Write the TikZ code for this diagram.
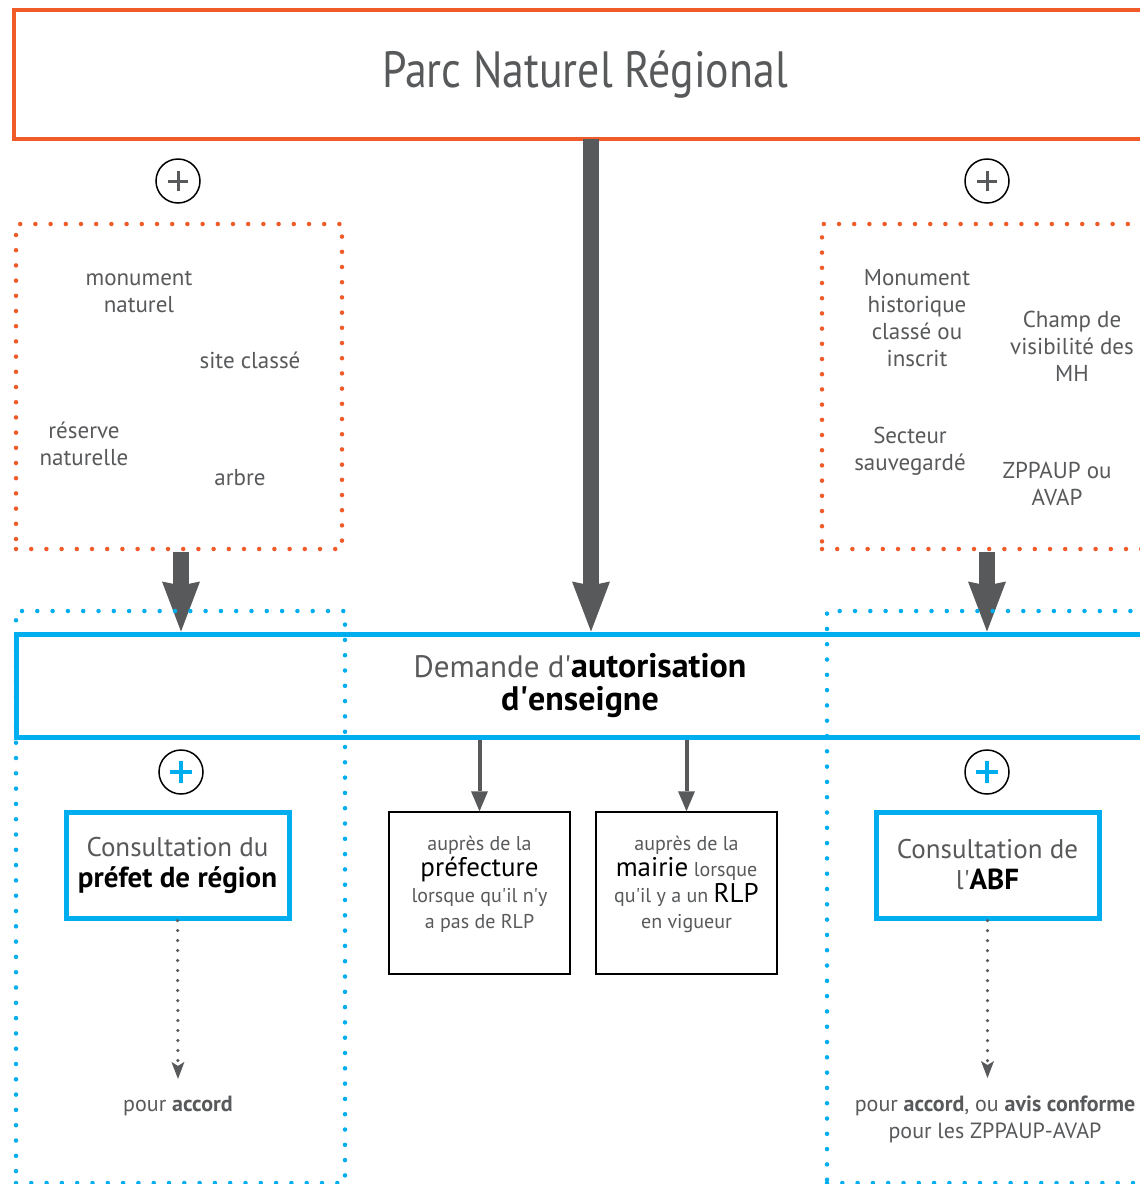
\documentclass[tikz,border=0pt]{standalone}
\usepackage{fontspec}
\setmainfont{PT Sans}
\newfontfamily\condfont[FakeStretch=0.86]{PT Sans}
\usetikzlibrary{arrows.meta}
\definecolor{orangeP}{HTML}{F15A29}
\definecolor{blueP}{HTML}{00AEEF}
\definecolor{grayP}{HTML}{58595B}
\newcommand{\q}{\textquotesingle}
\begin{document}
\begin{tikzpicture}[x=1pt,y=-1pt,
  orangezone/.style={draw=orangeP, line width=4.5pt, line cap=round, dash pattern=on 0pt off 15.2pt, rectangle, inner sep=0pt},
  bluezone/.style={draw=blueP, line width=4.5pt, line cap=round, dash pattern=on 0pt off 15.3pt, rectangle, inner sep=0pt},
  zonetext/.style={text=grayP, align=center, font=\fontsize{23}{27}\selectfont, inner sep=0pt},
  bigarrow/.style={draw=grayP, line width=16pt, -{Stealth[length=50pt,width=38pt,inset=4pt,line width=0pt]}},
  midarrow/.style={draw=grayP, line width=4pt, -{Triangle[length=20pt,width=17pt,line width=0pt]}},
  dotarrow/.style={draw=grayP, line width=3.5pt, line cap=round, dash pattern=on 0pt off 10pt, -{Stealth[length=17pt,width=13pt,inset=4pt,line width=0pt]}},
  pluscircle/.style={circle, draw=black, line width=1.5pt, minimum size=44pt, inner sep=0pt},
  consbox/.style={rectangle, draw=blueP, line width=5pt, fill=white, minimum width=223pt, minimum height=106pt, inner sep=0pt, align=center, font=\fontsize{27}{31}\selectfont, text=grayP},
  placebox/.style={rectangle, draw=black, line width=1.5pt, minimum width=181pt, minimum height=162pt, inner sep=0pt},
  placetext/.style={align=center, text=grayP, font=\fontsize{20}{26}\selectfont, inner sep=0pt},
  bottomtext/.style={align=center, text=grayP, font=\fontsize{22}{27}\selectfont, inner sep=0pt}
]
\useasboundingbox (0,0) rectangle (1140,1184);
\clip (0,0) rectangle (1140,1184);
\fill[white] (0,0) rectangle (1140,1184);

% title
\node[rectangle, draw=orangeP, line width=4pt, minimum width=1142pt, minimum height=129pt, inner sep=0pt,
      text=grayP, font=\condfont\fontsize{51}{51}\selectfont] (title) at (585,74.5) {Parc Naturel Régional};

% orange zones
\node[orangezone, minimum width=326pt, minimum height=325pt] (lzone) at (179,386.5) {};
\node[orangezone, minimum width=340pt, minimum height=325pt] (rzone) at (992,386.5) {};

\node[zonetext] (t1) at (139,292) {monument\\naturel};
\node[zonetext] (t2) at (250,360) {site classé};
\node[zonetext] (t3) at (84,444) {réserve\\naturelle};
\node[zonetext] (t4) at (240,478) {arbre};
\node[zonetext] (t5) at (917,318) {Monument\\historique\\classé ou\\inscrit};
\node[zonetext] (t6) at (1072,346) {Champ de\\visibilité des\\MH};
\node[zonetext] (t7) at (910,451) {Secteur\\sauvegardé};
\node[zonetext] (t8) at (1057,484) {ZPPAUP ou\\AVAP};

% plus circles top
\node[pluscircle] (p1) at (178,181) {};
\node[pluscircle] (p2) at (987,181) {};
\foreach \p in {p1,p2}{
  \draw[grayP, line width=3pt] ([xshift=-10pt]\p.center) -- ([xshift=10pt]\p.center);
  \draw[grayP, line width=3pt] ([yshift=-10pt]\p.center) -- ([yshift=10pt]\p.center);
}

% demande box
\node[rectangle, draw=blueP, line width=5pt, minimum width=1134pt, minimum height=103pt, inner sep=0pt] (demande) at (583,685.5) {};
\node[align=center, inner sep=0pt, font=\fontsize{31}{33}\selectfont] (demtext) at (580,686)
  {\textcolor{grayP}{Demande d\q}{\fontsize{34}{33}\selectfont\textbf{autorisation}}\\{\fontsize{34}{33}\selectfont\textbf{d\q enseigne}}};

% big arrows
\coordinate (cA) at (591,139);
\draw[bigarrow] (cA) -- (cA |- demande.north);
\draw[bigarrow] ([yshift=-1pt]lzone.south -| 181,0) -- (demande.north -| 181,0);
\draw[bigarrow] ([yshift=-1pt]rzone.south -| 987,0) -- (demande.north -| 987,0);

% blue zones (drawn over arrows)
\node[bluezone, minimum width=329pt, minimum height=572pt] (lblue) at (180.5,897) {};
\node[bluezone, minimum width=340pt, minimum height=572pt] (rblue) at (997,897) {};

% plus circles bottom
\node[pluscircle] (p3) at (181,772) {};
\node[pluscircle] (p4) at (987,772) {};
\foreach \p in {p3,p4}{
  \draw[blueP, line width=3.5pt] ([xshift=-11pt]\p.center) -- ([xshift=11pt]\p.center);
  \draw[blueP, line width=3.5pt] ([yshift=-11pt]\p.center) -- ([yshift=11pt]\p.center);
}

% consultation boxes
\node[consbox] (prefet) at (177.5,865) {Consultation du\\{\fontsize{29}{31}\selectfont\textcolor{black}{\textbf{préfet de région}}}};
\node[consbox] (abf) at (987.5,865) {Consultation de\\l\q{\fontsize{29}{31}\selectfont\textcolor{black}{\textbf{ABF}}}};

% place boxes
\node[placebox] (pref) at (479.5,893) {};
\node[placebox] (mairie) at (686.5,893) {};
\node[placetext] (preftext) at (479.5,884) {auprès de la\\{\fontsize{27}{26}\selectfont\textcolor{black}{préfecture}}\\lorsque qu\q il n\q y\\a pas de RLP};
\node[placetext] (mairietext) at (686.5,884) {auprès de la\\{\fontsize{27}{26}\selectfont\textcolor{black}{mairie}} lorsque\\qu\q il y a un {\fontsize{27}{26}\selectfont\textcolor{black}{RLP}}\\en vigueur};

\draw[midarrow] (pref.north |- demande.south) -- (pref.north);
\draw[midarrow] (mairie.north |- demande.south) -- (mairie.north);

% bottom texts
\node[bottomtext] (acc1) at (178,1106) {pour \textbf{accord}};
\node[bottomtext] (acc2) at (995,1119) {pour \textbf{accord}, ou \textbf{avis conforme}\\pour les ZPPAUP-AVAP};

\draw[dotarrow] (prefet.south) -- ([yshift=17pt]acc1.north);
\draw[dotarrow] (abf.south) -- (abf.south |- 0,1078);
\end{tikzpicture}
\end{document}
